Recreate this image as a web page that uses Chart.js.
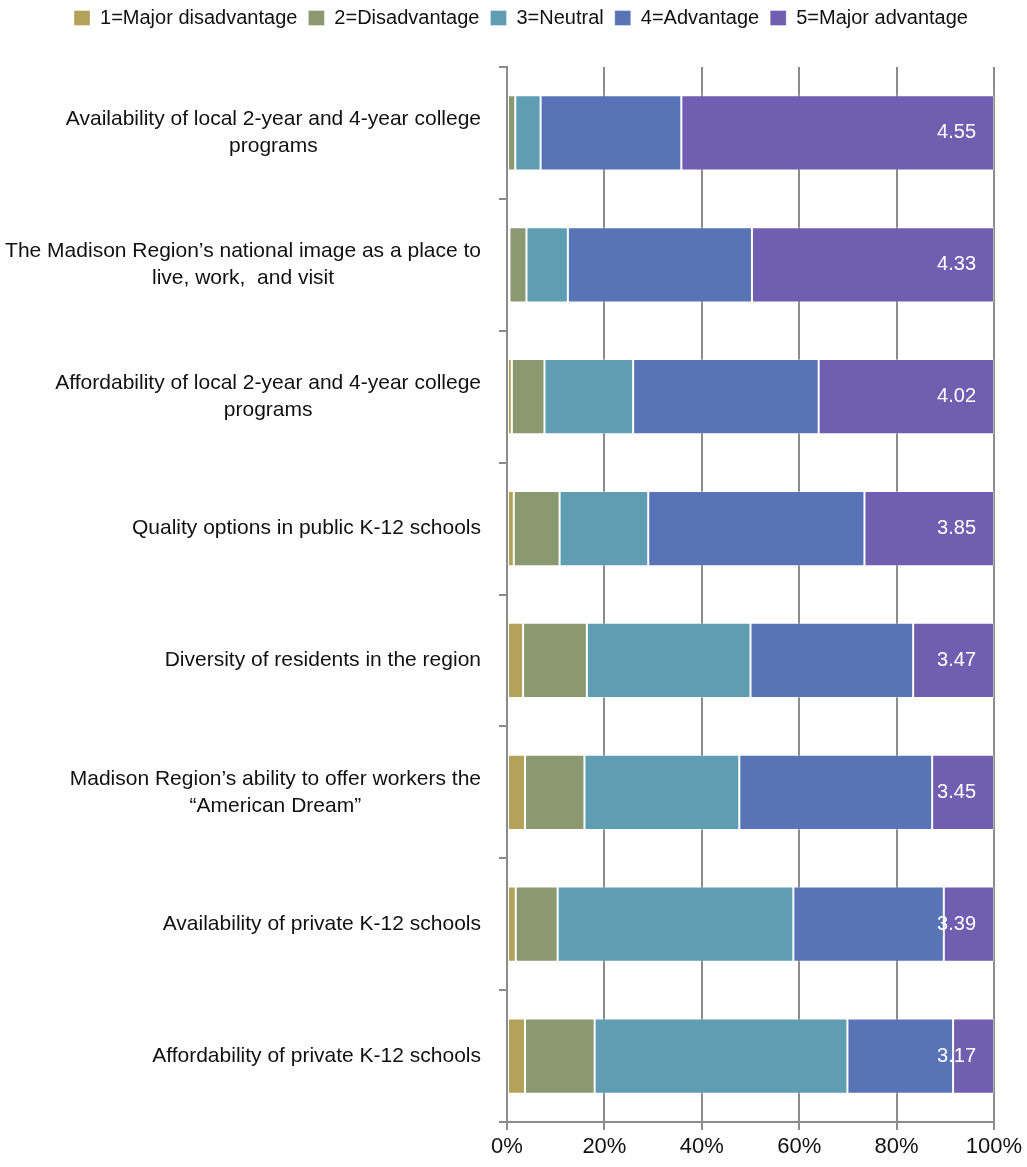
<!DOCTYPE html>
<html>
<head>
<meta charset="utf-8">
<script src="https://cdn.jsdelivr.net/npm/chart.js@4"></script>
<style>
  body { margin: 0; background: #fff; }
  canvas { display: block; }
</style>
</head>
<body>
<canvas id="chart" width="1027" height="1167"></canvas>
<script>
    // survey items, top to bottom
    const categories = [
        ['Availability of local 2-year and 4-year college', 'programs'],
        ['The Madison Region\u2019s national image as a place to', 'live, work,  and visit'],
        ['Affordability of local 2-year and 4-year college', 'programs'],
        ['Quality options in public K-12 schools'],
        ['Diversity of residents in the region'],
        ['Madison Region\u2019s ability to offer workers the', '\u201CAmerican Dream\u201D'],
        ['Availability of private K-12 schools'],
        ['Affordability of private K-12 schools']
    ];

    // share of answers (%) per rating
    const majorDisadvantage = [0, 0.5, 1.0, 1.4, 3.3, 3.7, 1.8, 3.7];
    const disadvantage      = [1.7, 3.5, 6.7, 9.4, 13.1, 12.2, 8.6, 14.3];
    const neutral           = [5.2, 8.5, 18.2, 18.2, 33.6, 31.8, 48.4, 51.9];
    const advantage         = [28.9, 37.8, 38.1, 44.4, 33.4, 39.6, 30.9, 21.7];
    const majorAdvantage    = [64.2, 49.7, 36.0, 26.6, 16.6, 12.7, 10.3, 8.4];

    // mean score shown at the end of each bar
    const meanScores = ['4.55', '4.33', '4.02', '3.85', '3.47', '3.45', '3.39', '3.17'];

    const xTicks = [0, 20, 40, 60, 80, 100];

    const FONT = "'Liberation Sans', Arial, sans-serif";
    const GRID = '#8c8c8c';

    // make the legend take the whole band above the plot, nudge it right/up a bit
    const legendHeight = {
        id: 'legendHeight',
        afterInit(chart) {
            const lg = chart.legend;
            const fit = lg.fit;
            lg.fit = function () { fit.call(this); this.height = 67; };
            const draw = lg.draw;
            lg.draw = function () {
                this.ctx.save();
                this.ctx.translate(24, -3);
                draw.call(this);
                this.ctx.restore();
            };
        }
    };

    // category labels: right aligned block, lines centred within it
    const yLabels = {
        id: 'yLabels',
        afterDraw(chart) {
            const ctx = chart.ctx;
            const y = chart.scales.y;
            ctx.save();
            ctx.font = '21px ' + FONT;
            ctx.fillStyle = '#111';
            ctx.textAlign = 'center';
            ctx.textBaseline = 'middle';
            categories.forEach((lines, i) => {
                const cy = y.getPixelForValue(i);
                const w = Math.max(...lines.map(l => ctx.measureText(l).width));
                const cx = 481 - w / 2;
                const lh = 27;
                lines.forEach((l, j) => {
                    ctx.fillText(l, cx, cy - (lines.length - 1) * lh / 2 + j * lh);
                });
            });
            ctx.restore();
        }
    };

    const meanLabels = {
        id: 'meanLabels',
        afterDatasetsDraw(chart) {
            const ctx = chart.ctx;
            const meta = chart.getDatasetMeta(4);
            ctx.save();
            ctx.font = '20px ' + FONT;
            ctx.fillStyle = '#fff';
            ctx.textAlign = 'right';
            ctx.textBaseline = 'middle';
            meta.data.forEach((bar, i) => {
                ctx.fillText(meanScores[i], chart.chartArea.right - 18, bar.y);
            });
            ctx.restore();
        }
    };

    const ds = (label, data, color) => ({
        label: label,
        data: data,
        backgroundColor: color,
        borderColor: 'rgba(255,255,255,0.35)',
        borderWidth: 1,
        borderSkipped: false,
        barPercentage: 0.57,
        categoryPercentage: 1
    });

    new Chart(document.getElementById('chart'), {
        type: 'bar',
        data: {
            labels: categories.map(c => c.join(' ')),
            datasets: [
                ds('1=Major disadvantage', majorDisadvantage, '#b5a25a'),
                ds('2=Disadvantage', disadvantage, '#8a9970'),
                ds('3=Neutral', neutral, '#5e9db2'),
                ds('4=Advantage', advantage, '#5874b6'),
                ds('5=Major advantage', majorAdvantage, '#705eb0')
            ]
        },
        options: {
            indexAxis: 'y',
            responsive: false,
            animation: false,
            layout: { padding: { left: 0, right: 33, top: 0, bottom: 0 } },
            plugins: {
                legend: {
                    position: 'top',
                    labels: {
                        boxWidth: 16,
                        boxHeight: 15,
                        padding: 11,
                        color: '#111',
                        font: { family: FONT, size: 20 }
                    }
                },
                tooltip: { enabled: false }
            },
            scales: {
                x: {
                    stacked: true,
                    min: 0,
                    max: 100,
                    afterBuildTicks: s => { s.ticks = xTicks.map(v => ({ value: v })); },
                    afterFit: s => { s.height = 45; },
                    grid: { color: GRID, lineWidth: 2, tickLength: 8 },
                    border: { display: true, color: GRID, width: 2 },
                    ticks: {
                        padding: 4,
                        color: '#111',
                        font: { family: FONT, size: 22 },
                        callback: v => v + '%'
                    }
                },
                y: {
                    stacked: true,
                    afterFit: s => { s.width = 507; },
                    grid: { drawOnChartArea: false, color: GRID, lineWidth: 2, tickLength: 8 },
                    border: { display: true, color: GRID, width: 2 },
                    ticks: { display: false }
                }
            }
        },
        plugins: [legendHeight, yLabels, meanLabels]
    });
</script>
</body>
</html>
